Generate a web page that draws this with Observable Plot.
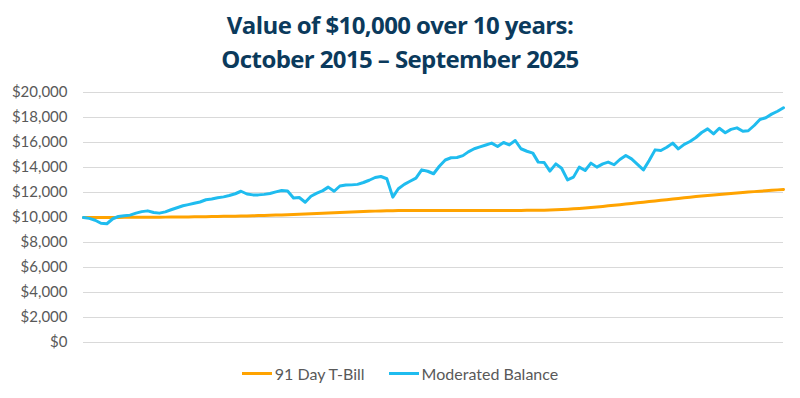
<!DOCTYPE html>
<html>
<head>
<meta charset="utf-8">
<script src="https://cdn.jsdelivr.net/npm/d3@7"></script>
<script src="https://cdn.jsdelivr.net/npm/@observablehq/plot@0.6"></script>
<style>
  html, body { margin: 0; padding: 0; background: #fff; }
  #wrap { position: relative; width: 800px; height: 398px; overflow: hidden; }
  #title { position: absolute; left: 0; top: 8px; width: 800px; text-align: center;
    font-family: "Open Sans", sans-serif; font-weight: 700; font-size: 24px; line-height: 34px;
    color: #0b3a5c; letter-spacing: -0.6px; }
  #chart { position: absolute; left: 0; top: 80px; }
  #legend { position: absolute; left: 0; top: 364px; width: 800px; display: flex; justify-content: center;
    font-family: Lato, sans-serif; font-size: 16px; color: #595959; }
  .item { display: flex; align-items: center; margin: 0 12px; }
  .sw { width: 30px; height: 3px; margin-right: 3px; }
</style>
</head>
<body>
<div id="wrap">
  <div id="title">Value of $10,000 over 10 years:<br>October 2015 – September 2025</div>
  <div id="chart"></div>
  <div id="legend"></div>
</div>
<script>
const startMonth = "2015-09-01";
const seriesNames = ["91 Day T-Bill", "Moderated Balance"];
const seriesColors = ["#ffa300", "#1fbcef"];
const yTicks = [0, 2000, 4000, 6000, 8000, 10000, 12000, 14000, 16000, 18000, 20000];

const tbill = [
  10000, 10000, 10001, 10002,
  10004, 10006, 10009, 10011, 10013, 10016, 10018, 10021, 10024, 10027, 10030, 10034,
  10038, 10043, 10049, 10055, 10062, 10069, 10077, 10085, 10093, 10101, 10109, 10118,
  10128, 10139, 10151, 10164, 10178, 10193, 10208, 10224, 10241, 10259, 10278, 10298,
  10320, 10342, 10364, 10386, 10407, 10427, 10446, 10464, 10480, 10496, 10510, 10523,
  10535, 10546, 10553, 10556, 10557, 10558, 10559, 10560, 10561, 10562, 10563, 10564,
  10565, 10565, 10566, 10566, 10567, 10567, 10568, 10568, 10569, 10569, 10570, 10570,
  10571, 10572, 10576, 10584, 10596, 10614, 10636, 10662, 10692, 10726, 10762, 10802,
  10844, 10888, 10934, 10980, 11028, 11076, 11126, 11176, 11226, 11276, 11326, 11376,
  11426, 11476, 11526, 11576, 11624, 11672, 11718, 11763, 11806, 11848, 11888, 11926,
  11963, 11999, 12035, 12070, 12105, 12140, 12175, 12210, 12245
];

const balanced = [
  10000, 9930, 9780, 9540,
  9500, 9900, 10080, 10140, 10190, 10350, 10470, 10530, 10400, 10350, 10450, 10620,
  10780, 10940, 11030, 11140, 11240, 11420, 11480, 11580, 11650, 11760, 11900, 12100,
  11880, 11810, 11810, 11850, 11920, 12050, 12160, 12120, 11560, 11600, 11220, 11700,
  11950, 12150, 12430, 12100, 12520, 12600, 12610, 12650, 12800, 12980, 13200, 13280,
  13100, 11630, 12300, 12650, 12900, 13150, 13810, 13700, 13500, 14100, 14600, 14780,
  14800, 14950, 15250, 15500, 15650, 15800, 15950, 15680, 16000, 15810, 16160, 15500,
  15300, 15150, 14430, 14400, 13710, 14290, 13940, 13010, 13230, 14030, 13760, 14350,
  14030, 14290, 14430, 14220, 14640, 14960, 14690, 14250, 13810, 14560, 15410, 15360,
  15620, 15950, 15490, 15850, 16080, 16400, 16800, 17090, 16690, 17140, 16780, 17050,
  17170, 16900, 16940, 17360, 17840, 17980, 18270, 18500, 18780
];

const start = new Date(startMonth);
const rows = [];
[tbill, balanced].forEach((vals, s) => {
  vals.forEach((v, i) => rows.push({date: d3.utcMonth.offset(start, i), value: v, series: seriesNames[s]}));
});

const chart = Plot.plot({
  width: 800,
  height: 270,
  marginLeft: 83,
  marginRight: 17,
  marginTop: 12,
  marginBottom: 8,
  style: {fontFamily: "Lato, sans-serif", background: "transparent"},
  x: {type: "utc", axis: null},
  y: {domain: [0, 20000], ticks: yTicks, label: null},
  color: {domain: seriesNames, range: seriesColors},
  marks: [
    Plot.gridY(yTicks, {stroke: "#d9d9d9", strokeOpacity: 1, strokeWidth: 1}),
    Plot.axisY(yTicks, {tickSize: 0, tickPadding: 16, fontSize: 15, fill: "#595959",
      tickFormat: d => "$" + d3.format(",")(d), label: null}),
    Plot.line(rows, {x: "date", y: "value", z: "series", stroke: "series", strokeWidth: 3,
      strokeLinejoin: "round", strokeLinecap: "round"})
  ]
});
document.getElementById("chart").appendChild(chart);

const legend = document.getElementById("legend");
seriesNames.forEach((n, i) => {
  const it = document.createElement("div");
  it.className = "item";
  const sw = document.createElement("div");
  sw.className = "sw";
  sw.style.background = seriesColors[i];
  const t = document.createElement("span");
  t.textContent = n;
  it.appendChild(sw); it.appendChild(t);
  legend.appendChild(it);
});
</script>
</body>
</html>
